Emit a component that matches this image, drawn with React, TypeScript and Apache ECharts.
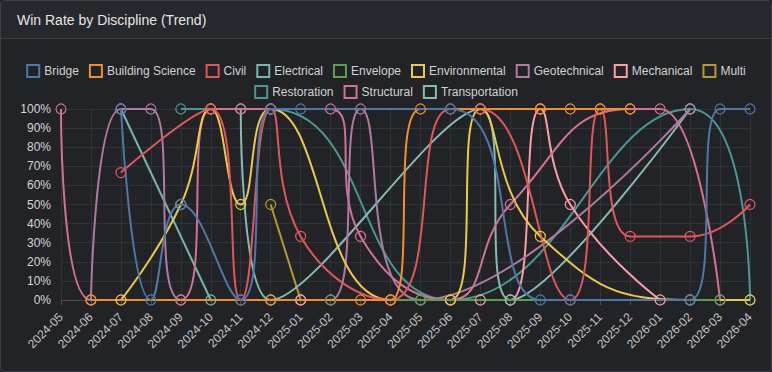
import React, { useEffect, useRef } from "react";
import * as echarts from "echarts";

const months = [
  "2024-05", "2024-06", "2024-07", "2024-08", "2024-09", "2024-10", "2024-11", "2024-12",
  "2025-01", "2025-02", "2025-03", "2025-04", "2025-05", "2025-06", "2025-07", "2025-08",
  "2025-09", "2025-10", "2025-11", "2025-12", "2026-01", "2026-02", "2026-03", "2026-04",
];

const _ = null;
// win rate (%) per month; null = no bids that month
const bridge =          [_, _, 100, 0, 50, _, 0, 100, 100, _, _, _, _, 100, _, _, 0, 0, _, _, _, 0, 100, 100];
const buildingScience = [_, 0, _, _, _, _, _, 0, _, _, 0, 0, 100, _, _, _, 100, 100, 100, 100, _, _, _, _];
const civil =           [_, _, 66.7, _, _, 100, 0, 100, 33.3, _, _, 0, _, 100, 100, _, _, 0, 100, 33.3, _, 33.3, _, 50];
const electrical =      [_, _, 100, _, _, 0, _, _, _, _, _, _, _, _, _, _, _, _, _, _, _, _, _, _];
const envelope =        [_, _, _, _, _, _, _, _, _, 0, _, _, 0, _, _, _, _, _, _, _, _, _, 0, _];
const environmental =   [_, _, 0, _, 50, 100, 50, 100, _, _, _, 0, _, 0, 100, _, 33.3, _, _, _, _, 0, _, 0];
const geotechnical =    [_, 0, 100, 100, 0, _, _, _, _, 0, 100, _, 0, _, _, _, _, _, _, _, _, 100, _, _];
const mechanical =      [_, _, _, _, _, _, _, _, 0, _, _, _, _, _, 0, 0, 100, 50, _, _, 0, _, _, _];
const multi =           [_, _, _, _, _, _, _, 50, 0, _, _, _, _, _, _, _, _, _, _, _, _, _, _, _];
const restoration =     [_, _, _, _, 100, _, _, 100, _, _, _, _, _, 0, _, _, _, _, _, _, _, 100, _, 0];
const structural =      [100, 0, _, _, 0, 100, 100, _, _, 100, 33.3, _, _, 0, _, 50, _, _, _, 100, 100, _, 0, _];
const transportation =  [_, _, _, _, _, _, 100, 0, _, _, _, _, _, _, 100, 0, _, _, _, _, _, 100, _, _];

const yTicks = [0, 10, 20, 30, 40, 50, 60, 70, 80, 90, 100];

const legendRow1 = ["Bridge", "Building Science", "Civil", "Electrical", "Envelope", "Environmental", "Geotechnical", "Mechanical", "Multi"];
const legendRow2 = ["Restoration", "Structural", "Transportation"];

const colorOf: Record<string, string> = {
  Bridge: "#4e79a7",
  "Building Science": "#f28e2b",
  Civil: "#e15759",
  Electrical: "#76b7b2",
  Envelope: "#59a14f",
  Environmental: "#edc948",
  Geotechnical: "#b07aa1",
  Mechanical: "#ff9da7",
  Multi: "#b6992d",
  Restoration: "#499894",
  Structural: "#d37295",
  Transportation: "#86bcb6",
};

const dataOf: Record<string, (number | null)[]> = {
  Bridge: bridge,
  "Building Science": buildingScience,
  Civil: civil,
  Electrical: electrical,
  Envelope: envelope,
  Environmental: environmental,
  Geotechnical: geotechnical,
  Mechanical: mechanical,
  Multi: multi,
  Restoration: restoration,
  Structural: structural,
  Transportation: transportation,
};

// drawing order (later = on top)
const drawOrder = [
  "Multi", "Restoration", "Mechanical", "Electrical", "Transportation", "Structural",
  "Geotechnical", "Environmental", "Civil", "Envelope", "Building Science", "Bridge",
];

const FONT = '"Liberation Sans", Arial, sans-serif';

export default function App() {
  const ref = useRef<HTMLDivElement>(null);
  useEffect(() => {
    document.body.style.margin = "0";
    document.body.style.background = "#212327";
    const chart = echarts.init(ref.current!, null, { renderer: "svg" });
    const legendItem = (name: string) => ({
      name,
      icon: "rect",
      itemStyle: { color: "rgba(0,0,0,0)", borderColor: colorOf[name], borderWidth: 2 },
    });
    const legendBase = {
      left: "center",
      padding: 0,
      itemWidth: 12,
      itemHeight: 12,
      itemGap: 10,
      icon: "rect",
      textStyle: { color: "#d2d2d2", fontSize: 12, fontFamily: FONT },
      selectedMode: false,
    };
    chart.setOption({
      animation: false,
      backgroundColor: "transparent",
      textStyle: { fontFamily: FONT },
      title: {
        text: "Win Rate by Discipline (Trend)",
        left: 16,
        top: 12,
        padding: 0,
        textStyle: { color: "#e6e6e6", fontSize: 14, fontWeight: "normal", fontFamily: FONT },
      },
      graphic: [
        {
          type: "rect",
          z: -10,
          silent: true,
          shape: { x: 0, y: 0, width: 770, height: 37 },
          style: { fill: "#25282c" },
        },
        {
          type: "line",
          silent: true,
          shape: { x1: 0, y1: 37.5, x2: 770, y2: 37.5 },
          style: { stroke: "#3a3d42", lineWidth: 1 },
        },
      ],
      legend: [
        { ...legendBase, top: 63, data: legendRow1.map(legendItem) },
        { ...legendBase, top: 84, data: legendRow2.map(legendItem) },
      ],
      grid: { left: 60, right: 21, top: 108, bottom: 71 },
      xAxis: {
        type: "category",
        boundaryGap: false,
        data: months,
        axisLine: { lineStyle: { color: "#4a4d52" } },
        axisTick: { show: true, lineStyle: { color: "#4a4d52" } },
        axisLabel: { rotate: 45, interval: 0, color: "#c4c4c4", fontSize: 12, margin: 15, fontFamily: FONT },
        splitLine: { show: true, lineStyle: { color: "#303338" } },
      },
      yAxis: {
        type: "value",
        min: yTicks[0],
        max: yTicks[yTicks.length - 1],
        interval: 10,
        axisLine: { show: false },
        axisTick: { show: false },
        axisLabel: { formatter: "{value}%", color: "#d6d6d6", fontSize: 12, margin: 10, fontFamily: FONT },
        splitLine: { show: true, lineStyle: { color: "#303338" } },
      },
      series: drawOrder.map((name) => ({
        name,
        type: "line",
        data: dataOf[name],
        smooth: true,
        connectNulls: true,
        symbol: "circle",
        symbolSize: 10,
        showAllSymbol: true,
        itemStyle: { color: "rgba(0,0,0,0)", borderColor: colorOf[name], borderWidth: 1.2 },
        lineStyle: { color: colorOf[name], width: 2 },
        emphasis: { disabled: true },
      })),
    });
    return () => chart.dispose();
  }, []);
  return (
    <div
      style={{
        width: 772,
        height: 372,
        boxSizing: "border-box",
        border: "1px solid #3c3f45",
        borderRadius: 4,
        background: "#212327",
        overflow: "hidden",
      }}
    >
      <div ref={ref} style={{ width: 770, height: 370 }} />
    </div>
  );
}
